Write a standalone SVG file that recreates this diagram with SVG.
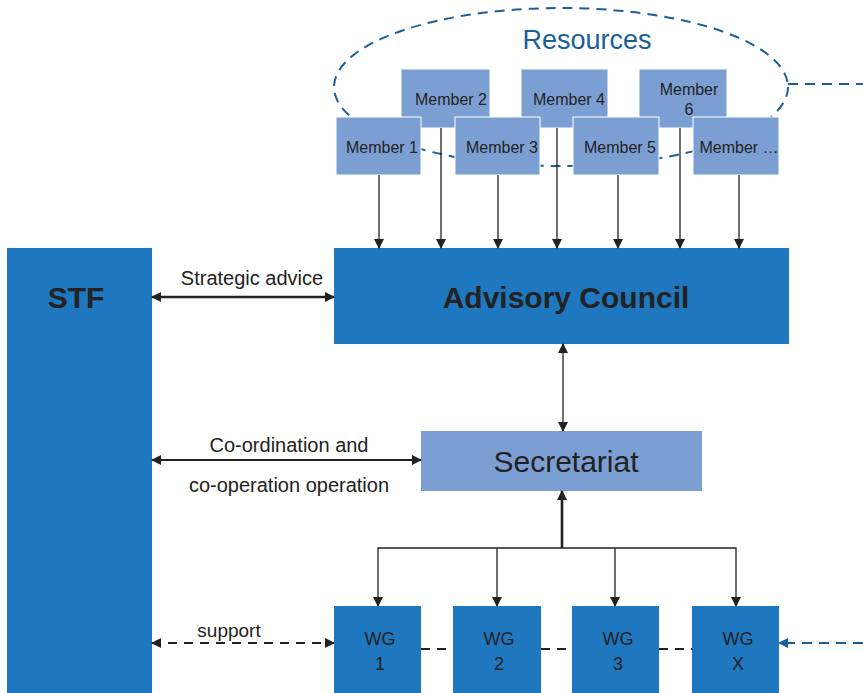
<svg xmlns="http://www.w3.org/2000/svg" width="863" height="693" viewBox="0 0 863 693">
  <defs>
    <marker id="ah" viewBox="0 0 10 10" refX="9" refY="5" markerWidth="10" markerHeight="10" markerUnits="userSpaceOnUse" orient="auto-start-reverse">
      <path d="M0,0 L10,5 L0,10 z" fill="#222"/>
    </marker>
    <marker id="ahb" viewBox="0 0 10 10" refX="9" refY="5" markerWidth="10" markerHeight="10" markerUnits="userSpaceOnUse" orient="auto-start-reverse">
      <path d="M0,0 L10,5 L0,10 z" fill="#1a5f9a"/>
    </marker>
  </defs>
  <style>
    .dark { fill: #1e77bf; }
    .light { fill: #7b9fd3; stroke: #ffffff; stroke-width: 1; }
    .t { font-family: "Liberation Sans", Arial, sans-serif; fill: #222; text-anchor: middle; }
    .mem { font-size: 16px; }
    .lbl { font-size: 20px; }
    .wg { font-size: 18px; }
    .ln { stroke: #222; stroke-width: 1.3; fill: none; }
    .thick { stroke: #222; stroke-width: 2.6; fill: none; }
    .dash { stroke: #222; stroke-width: 2; stroke-dasharray: 9 7; fill: none; }
    .bdash { stroke: #1a5f9a; stroke-width: 2; stroke-dasharray: 10 7; fill: none; }
  </style>

  <!-- resource pool outline -->
  <g id="resources">
    <ellipse cx="561" cy="87" rx="227" ry="79" class="bdash"/>
    <text x="587" y="49" class="t" style="font-size:27px; fill:#1a5f9a">Resources</text>
  </g>

  <!-- member boxes: back row -->
  <g id="member2"><rect x="401" y="69" width="89" height="59" class="light"/><text x="451" y="105" class="t mem">Member 2</text></g>
  <g id="member4"><rect x="521" y="69" width="87" height="59" class="light"/><text x="569" y="105" class="t mem">Member 4</text></g>
  <g id="member6"><rect x="639" y="69" width="88" height="59" class="light"/><text x="689" y="95" class="t mem">Member</text><text x="689" y="115" class="t mem">6</text></g>
  <!-- member boxes: front row -->
  <g id="member1"><rect x="336" y="117" width="85" height="58" class="light"/><text x="382" y="153" class="t mem">Member 1</text></g>
  <g id="member3"><rect x="455" y="117" width="85" height="58" class="light"/><text x="502" y="153" class="t mem">Member 3</text></g>
  <g id="member5"><rect x="573" y="117" width="86" height="58" class="light"/><text x="620" y="153" class="t mem">Member 5</text></g>
  <g id="memberN"><rect x="693" y="117" width="86" height="58" class="light"/><text x="739" y="153" class="t mem">Member …</text></g>

  <!-- main bodies -->
  <g id="stf"><rect x="7" y="248" width="145" height="445" class="dark"/><text x="76" y="308" class="t" style="font-size:30px; font-weight:bold">STF</text></g>
  <g id="advisory"><rect x="334" y="248" width="455" height="96" class="dark"/><text x="566" y="308" class="t" style="font-size:30px; font-weight:bold">Advisory Council</text></g>
  <g id="secretariat"><rect x="421" y="431" width="281" height="60" fill="#7b9fd3"/><text x="566" y="472" class="t" style="font-size:30px">Secretariat</text></g>

  <!-- working groups -->
  <g id="wg1"><rect x="334" y="606" width="87" height="87" class="dark"/><text x="380" y="645" class="t wg">WG</text><text x="380" y="670" class="t wg">1</text></g>
  <g id="wg2"><rect x="453" y="606" width="88" height="87" class="dark"/><text x="499" y="645" class="t wg">WG</text><text x="499" y="670" class="t wg">2</text></g>
  <g id="wg3"><rect x="572" y="606" width="87" height="87" class="dark"/><text x="618" y="645" class="t wg">WG</text><text x="618" y="670" class="t wg">3</text></g>
  <g id="wgX"><rect x="692" y="606" width="87" height="87" class="dark"/><text x="738" y="645" class="t wg">WG</text><text x="738" y="670" class="t wg">X</text></g>

  <g id="connectors">
    <!-- members to council -->
    <line x1="379" y1="175" x2="379" y2="248" class="ln" marker-end="url(#ah)"/>
    <line x1="441" y1="128" x2="441" y2="248" class="ln" marker-end="url(#ah)"/>
    <line x1="498" y1="175" x2="498" y2="248" class="ln" marker-end="url(#ah)"/>
    <line x1="557" y1="128" x2="557" y2="248" class="ln" marker-end="url(#ah)"/>
    <line x1="618" y1="175" x2="618" y2="248" class="ln" marker-end="url(#ah)"/>
    <line x1="680" y1="128" x2="680" y2="248" class="ln" marker-end="url(#ah)"/>
    <line x1="739" y1="175" x2="739" y2="248" class="ln" marker-end="url(#ah)"/>

    <!-- STF links -->
    <line x1="152" y1="297" x2="334" y2="297" class="thick" marker-start="url(#ah)" marker-end="url(#ah)"/>
    <text x="252" y="285" class="t lbl">Strategic advice</text>
    <line x1="152" y1="460" x2="421" y2="460" class="ln" style="stroke-width:2" marker-start="url(#ah)" marker-end="url(#ah)"/>
    <text x="289" y="452" class="t lbl">Co-ordination and</text>
    <text x="289" y="492" class="t lbl">co-operation operation</text>
    <line x1="152" y1="643" x2="334" y2="643" class="dash" marker-start="url(#ah)" marker-end="url(#ah)"/>
    <text x="229" y="637" class="t" style="font-size:19px">support</text>

    <!-- council to secretariat -->
    <line x1="563" y1="344" x2="563" y2="431" class="ln" marker-start="url(#ah)" marker-end="url(#ah)"/>

    <!-- secretariat to working groups -->
    <line x1="562" y1="548" x2="562" y2="491" class="thick" marker-end="url(#ah)"/>
    <polyline points="378,606 378,548 736,548 736,606" class="ln" marker-start="url(#ah)" marker-end="url(#ah)"/>
    <line x1="497" y1="548" x2="497" y2="606" class="ln" marker-end="url(#ah)"/>
    <line x1="615" y1="548" x2="615" y2="606" class="ln" marker-end="url(#ah)"/>

    <!-- links between working groups -->
    <line x1="421" y1="649" x2="453" y2="649" class="dash"/>
    <line x1="541" y1="649" x2="572" y2="649" class="dash"/>
    <line x1="659" y1="649" x2="692" y2="649" class="dash"/>

    <!-- outside links -->
    <line x1="788" y1="84" x2="863" y2="84" class="bdash"/>
    <line x1="863" y1="643" x2="779" y2="643" class="bdash" marker-end="url(#ahb)"/>
  </g>
</svg>
